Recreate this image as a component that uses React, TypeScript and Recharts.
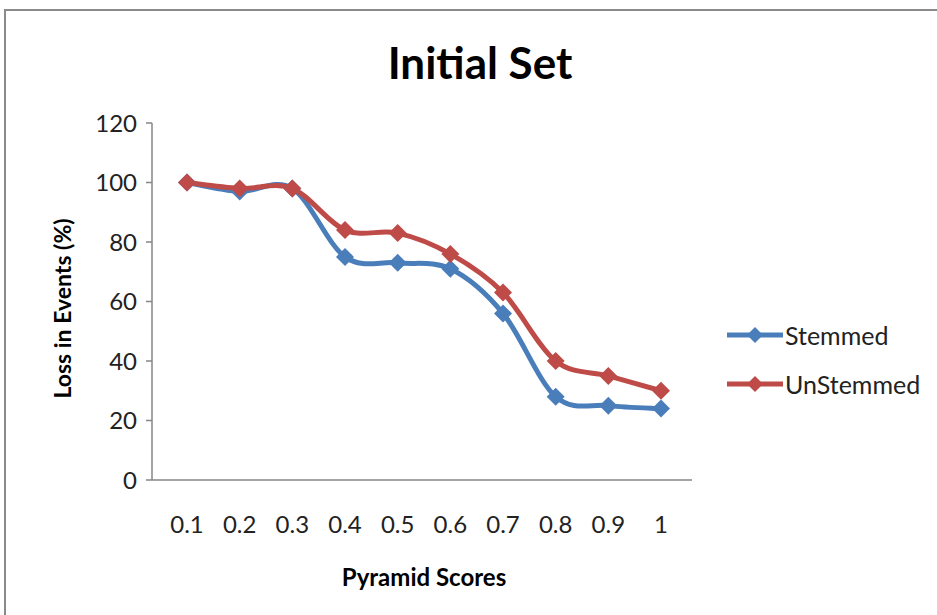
import React from "react";
import { LineChart, Line, XAxis, YAxis, Legend } from "recharts";

// Pyramid score thresholds (x categories)
const scores = ["0.1", "0.2", "0.3", "0.4", "0.5", "0.6", "0.7", "0.8", "0.9", "1"];
// Loss in events (%) per series
const stemmed = [100, 97, 98, 75, 73, 71, 56, 28, 25, 24];
const unStemmed = [100, 98, 98, 84, 83, 76, 63, 40, 35, 30];
const yTicks = [0, 20, 40, 60, 80, 100, 120];

const seriesNames = ["Stemmed", "UnStemmed"];
const seriesColors = ["#4A7EBB", "#BE4B48"];

const data = scores.map((s, i) => ({ score: s, Stemmed: stemmed[i], UnStemmed: unStemmed[i] }));

const FONT = "Lato, 'Open Sans', sans-serif";

// Office-style smoothed line: cubic Bezier segments with Catmull-Rom tangents.
const smoothCurve = (context: any) => {
  let pts: [number, number][] = [];
  return {
    areaStart() {},
    areaEnd() {},
    lineStart() {
      pts = [];
    },
    point(x: number, y: number) {
      pts.push([+x, +y]);
    },
    lineEnd() {
      const n = pts.length;
      if (!n) return;
      context.moveTo(pts[0][0], pts[0][1]);
      for (let i = 0; i < n - 1; i++) {
        const p0 = pts[Math.max(i - 1, 0)];
        const p1 = pts[i];
        const p2 = pts[i + 1];
        const p3 = pts[Math.min(i + 2, n - 1)];
        const c1x = p1[0] + (p2[0] - p0[0]) / 6;
        const c1y = p1[1] + (p2[1] - p0[1]) / 6;
        const c2x = p2[0] - (p3[0] - p1[0]) / 6;
        const c2y = p2[1] - (p3[1] - p1[1]) / 6;
        context.bezierCurveTo(c1x, c1y, c2x, c2y, p2[0], p2[1]);
      }
    },
  };
};

const Diamond = (props: any) => {
  const { cx, cy, fill, r = 9 } = props;
  if (cx == null || cy == null) return null;
  return (
    <polygon
      points={`${cx},${cy - r} ${cx + r},${cy} ${cx},${cy + r} ${cx - r},${cy}`}
      fill={fill}
    />
  );
};

const LegendContent = () => (
  <div style={{ fontFamily: FONT }}>
    {seriesNames.map((name, i) => (
      <div key={name} style={{ display: "flex", alignItems: "center", height: 49 }}>
        <svg width={58} height={20} style={{ display: "block" }}>
          <line x1={1} y1={10} x2={57} y2={10} stroke={seriesColors[i]} strokeWidth={5} />
          <Diamond cx={29} cy={10} r={8} fill={seriesColors[i]} />
        </svg>
        <span style={{ fontSize: 25, color: "#222", marginLeft: 1, lineHeight: "24px" }}>{name}</span>
      </div>
    ))}
  </div>
);

const YLabel = (props: any) => {
  const { viewBox } = props;
  const cx = viewBox.x + 62;
  const cy = viewBox.y + viewBox.height / 2 + 7;
  return (
    <text
      x={cx}
      y={cy}
      transform={`rotate(-90, ${cx}, ${cy})`}
      textAnchor="middle"
      dominantBaseline="central"
      fontFamily={FONT}
      fontWeight="bold"
      fontSize={23}
      fill="#000"
    >
      Loss in Events (%)
    </text>
  );
};

const XLabel = (props: any) => {
  const { viewBox } = props;
  return (
    <text
      x={viewBox.x + viewBox.width / 2 + 2}
      y={viewBox.y + 96}
      textAnchor="middle"
      dominantBaseline="central"
      fontFamily={FONT}
      fontWeight="bold"
      fontSize={24}
      fill="#000"
    >
      Pyramid Scores
    </text>
  );
};

export default function App() {
  return (
    <div
      style={{
        position: "absolute",
        left: 0,
        top: 0,
        width: 937,
        height: 615,
        overflow: "hidden",
        background: "#fff",
      }}
    >
      <div
        style={{
          position: "absolute",
          left: 4,
          top: 9,
          width: 960,
          height: 640,
          border: "2px solid #8a8a8a",
          boxSizing: "border-box",
        }}
      />
      <div
        style={{
          position: "absolute",
          left: 0,
          width: 960,
          top: 34,
          textAlign: "center",
          fontFamily: FONT,
          fontWeight: "bold",
          fontSize: 44,
          lineHeight: "56px",
          color: "#000",
        }}
      >
        Initial Set
      </div>
      <LineChart
        width={937}
        height={615}
        data={data}
        margin={{ top: 123, right: 245, left: 0, bottom: 0 }}
        style={{ position: "absolute", left: 0, top: 0 }}
      >
        <XAxis
          dataKey="score"
          height={135}
          padding={{ left: 35, right: 31 }}
          tickLine={false}
          tickSize={0}
          tickMargin={36}
          axisLine={{ stroke: "#868686", strokeWidth: 1.5 }}
          tick={{ fontFamily: FONT, fontSize: 24, fill: "#222" }}
          label={<XLabel />}
        />
        <YAxis
          width={152}
          domain={[0, 120]}
          ticks={yTicks}
          interval={0}
          tickSize={6}
          tickMargin={9}
          axisLine={{ stroke: "#868686", strokeWidth: 1.5 }}
          tickLine={{ stroke: "#868686", strokeWidth: 1.5 }}
          tick={{ fontFamily: FONT, fontSize: 24, fill: "#222" }}
          label={<YLabel />}
        />
        <Legend
          layout="vertical"
          align="center"
          verticalAlign="middle"
          content={<LegendContent />}
          wrapperStyle={{ left: 726, top: 310, width: 210, height: 100 }}
        />
        {seriesNames.map((name, i) => (
          <Line
            key={name}
            dataKey={name}
            type={smoothCurve as any}
            stroke={seriesColors[i]}
            strokeWidth={5}
            dot={(p: any) => <Diamond key={`${name}-${p.index}`} cx={p.cx} cy={p.cy} r={9} fill={seriesColors[i]} />}
            activeDot={false}
            isAnimationActive={false}
          />
        ))}
      </LineChart>
    </div>
  );
}
